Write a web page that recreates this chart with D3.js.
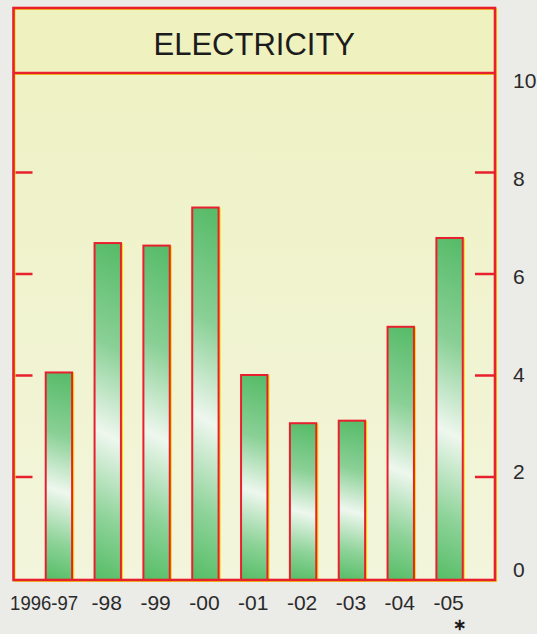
<!DOCTYPE html>
<html>
  <head>
    <meta charset="utf-8">
    <script src="https://d3js.org/d3.v7.min.js"></script>
    <style>
      body { margin: 0; background: #ebebe8; }
      text { font-family: "Liberation Sans", Arial, sans-serif; }
    </style>
  </head>
  <body>
  <div id="chart"></div>
  <script>

// data
var years = ["1996-97", "-98", "-99", "-00", "-01", "-02", "-03", "-04", "-05"];
var values = [4.05, 6.6, 6.55, 7.3, 4.0, 3.05, 3.1, 4.95, 6.7];
var yTicks = [0, 2, 4, 6, 8, 10];
var title = "ELECTRICITY";

var w = 537, h = 634;
var fLeft = 13.5, fRight = 495, fTop = 8, divider = 73, fBottom = 580;
var red = "#e8202e", yellow = "#f2e010";

var svg = d3.select("#chart").append("svg")
    .attr("width", w)
    .attr("height", h);

var defs = svg.append("defs");

var bg = defs.append("linearGradient")
    .attr("id", "paper")
    .attr("x1", 0).attr("y1", 0).attr("x2", 0).attr("y2", 1);
bg.append("stop").attr("offset", 0).attr("stop-color", "#eef2c4");
bg.append("stop").attr("offset", 1).attr("stop-color", "#f3f5dc");

var g = defs.append("linearGradient")
    .attr("id", "barfill")
    .attr("x1", 0.52).attr("y1", 0).attr("x2", 0.48).attr("y2", 1);
[[0, "#58bc6a"], [0.3, "#8ad096"], [0.57, "#eef7ee"], [0.82, "#8ed399"], [1, "#5abf6a"]]
  .forEach(function(s) {
    g.append("stop").attr("offset", s[0]).attr("stop-color", s[1]);
  });

var x = d3.scaleBand()
    .domain(years)
    .range([fLeft, fRight])
    .paddingInner(0.46)
    .paddingOuter(0.66);

var y = d3.scaleLinear()
    .domain([0, 10])
    .range([578, 70.5]);

// where the printed numbers sit (a little inside the end ticks)
var ylab = d3.scaleLinear()
    .domain([0, 10])
    .range([570, 81]);

// panel backgrounds
svg.append("rect")
    .attr("x", fLeft).attr("y", fTop)
    .attr("width", fRight - fLeft).attr("height", divider - fTop)
    .attr("fill", "#eff2bf");
svg.append("rect")
    .attr("x", fLeft).attr("y", divider)
    .attr("width", fRight - fLeft).attr("height", fBottom - divider)
    .attr("fill", "url(#paper)");

// bars
var bars = svg.append("g").attr("id", "bars");
bars.selectAll("rect.shadow")
    .data(values)
    .enter().append("rect")
    .attr("class", "shadow")
    .attr("x", function(d, i) { return x(years[i]) + 1.3; })
    .attr("y", function(d) { return y(d) + 1; })
    .attr("width", x.bandwidth())
    .attr("height", function(d) { return fBottom - y(d); })
    .attr("fill", "none")
    .attr("stroke", yellow)
    .attr("stroke-width", 1.6);
bars.selectAll("rect.bar")
    .data(values)
    .enter().append("rect")
    .attr("class", "bar")
    .attr("x", function(d, i) { return x(years[i]); })
    .attr("y", function(d) { return y(d); })
    .attr("width", x.bandwidth())
    .attr("height", function(d) { return fBottom - y(d); })
    .attr("fill", "url(#barfill)")
    .attr("stroke", red)
    .attr("stroke-width", 2);

// ticks inside the frame
var leftAxis = d3.axisLeft(y)
    .tickValues([2, 4, 6, 8])
    .tickSize(-19)
    .tickFormat("");
var la = svg.append("g")
    .attr("transform", "translate(" + fLeft + ",0)")
    .call(leftAxis);
la.select(".domain").remove();
la.selectAll("line").attr("stroke", red).attr("stroke-width", 2.5);

var rightAxis = d3.axisRight(y)
    .tickValues(yTicks)
    .tickSize(-20)
    .tickPadding(18)
    .tickFormat(d3.format("d"));
var ra = svg.append("g")
    .attr("transform", "translate(" + fRight + ",0)")
    .call(rightAxis);
ra.select(".domain").remove();
ra.selectAll("line")
    .attr("stroke", red).attr("stroke-width", 2.5)
    .attr("display", function(d) { return (d == 0 || d == 10) ? "none" : null; });
ra.selectAll("text")
    .attr("y", function(d) { return ylab(d) - y(d); })
    .attr("fill", "#2a2a2a")
    .attr("font-size", "21px")
    .attr("font-family", "Liberation Sans, Arial, sans-serif");

// frame
var frame = svg.append("g").attr("id", "frame");
frame.append("rect")
    .attr("x", fLeft + 1.2).attr("y", fTop + 1)
    .attr("width", fRight - fLeft).attr("height", fBottom - fTop)
    .attr("fill", "none").attr("stroke", yellow).attr("stroke-width", 1.8);
frame.append("line")
    .attr("x1", fLeft).attr("x2", fRight)
    .attr("y1", divider + 1).attr("y2", divider + 1)
    .attr("stroke", yellow).attr("stroke-width", 1.8);
frame.append("rect")
    .attr("x", fLeft).attr("y", fTop)
    .attr("width", fRight - fLeft).attr("height", fBottom - fTop)
    .attr("fill", "none").attr("stroke", red).attr("stroke-width", 2.6);
frame.append("line")
    .attr("x1", fLeft).attr("x2", fRight)
    .attr("y1", divider).attr("y2", divider)
    .attr("stroke", red).attr("stroke-width", 2.4);

// title
svg.append("text")
    .attr("x", (fLeft + fRight) / 2)
    .attr("y", 55)
    .attr("text-anchor", "middle")
    .attr("font-size", "31px")
    .attr("fill", "#1c1c1c")
    .text(title);

// category labels
svg.append("g").attr("id", "labels")
  .selectAll("text")
    .data(years)
    .enter().append("text")
    .attr("x", function(d, i) {
      if (i == 0) return x(d) + x.bandwidth() + 6;   // first label is right-aligned
      return x(d) + x.bandwidth() / 2 - 1;
    })
    .attr("y", 610)
    .attr("text-anchor", function(d, i) { return i == 0 ? "end" : "middle"; })
    .attr("font-size", "21px")
    .attr("fill", "#2a2a2a")
    .attr("textLength", function(d, i) { return i == 0 ? 68 : null; })
    .attr("lengthAdjust", "spacingAndGlyphs")
    .text(function(d) { return d; });

// asterisk under the last year
svg.append("text")
    .attr("x", x(years[years.length - 1]) + x.bandwidth() / 2 + 10)
    .attr("y", 629.5)
    .attr("text-anchor", "middle")
    .attr("font-size", "15.5px")
    .attr("font-weight", "bold")
    .attr("font-family", "DejaVu Sans, sans-serif")
    .attr("fill", "#1c1c1c")
    .text("\u2217");

  </script>
  </body>
</html>
